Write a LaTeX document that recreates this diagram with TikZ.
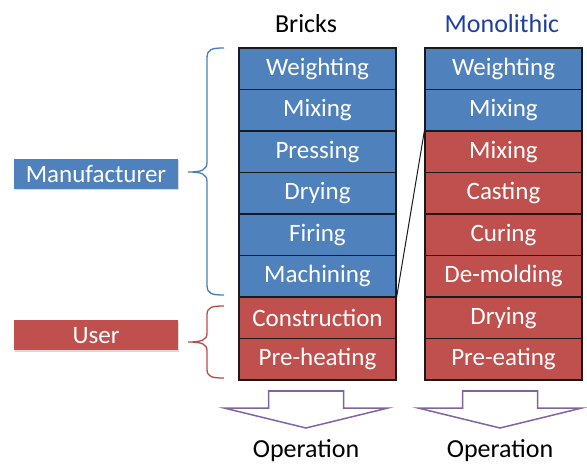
\documentclass[tikz,border=0pt]{standalone}
\usepackage{fontspec}
\setmainfont{Carlito}
\usetikzlibrary{shadows}

\definecolor{stageblue}{HTML}{4F81BD}
\definecolor{stagered}{HTML}{C0504D}
\definecolor{braceblue}{HTML}{4A7EBB}
\definecolor{bracered}{HTML}{BE4B48}
\definecolor{arrowpurple}{HTML}{8064A2}
\definecolor{titleblue}{HTML}{1F3FA0}
\definecolor{cellline}{HTML}{1A1A1A}

\tikzset{
  cell/.style={draw=cellline, line width=1.1pt, minimum width=157pt, minimum height=41.5pt,
    inner sep=0pt, text=white, font=\fontsize{25}{29}\selectfont},
  bluecell/.style={cell, fill=stageblue},
  redcell/.style={cell, fill=stagered},
  rolebox/.style={minimum width=164pt, minimum height=30pt, inner sep=0pt, text=white,
    font=\fontsize{25}{29}\selectfont,
    drop shadow={shadow xshift=1.2pt, shadow yshift=-1.2pt, opacity=0.25, fill=black!60}},
  title/.style={font=\fontsize{26}{30}\selectfont},
  bracepath/.style={line width=1.3pt},
  flowarrow/.style={draw=arrowpurple, line width=1.5pt, line join=miter},
  link/.style={draw=cellline, line width=1pt}
}

\begin{document}
\begin{tikzpicture}[x=1pt,y=-1pt]
\useasboundingbox (0,0) rectangle (587,465);

% column titles
\node[title] (tb) at (306,24) {Bricks};
\node[title, text=titleblue] (tm) at (502,24) {Monolithic};

% brick route
\foreach \i/\name/\kind in {0/Weighting/bluecell, 1/Mixing/bluecell, 2/Pressing/bluecell,
    3/Drying/bluecell, 4/Firing/bluecell, 5/Machining/bluecell,
    6/Construction/redcell, 7/Pre-heating/redcell}
  \node[\kind] (b\i) at (317.5,{48+41.5*(\i+0.5)}) {\name};

% monolithic route
\foreach \i/\name/\kind in {0/Weighting/bluecell, 1/Mixing/bluecell, 2/Mixing/redcell,
    3/Casting/redcell, 4/Curing/redcell, 5/De-molding/redcell,
    6/Drying/redcell, 7/Pre-eating/redcell}
  \node[\kind] (m\i) at (503.5,{48+41.5*(\i+0.5)}) {\name};

% where the monolithic route leaves the brick route
\draw[link] (b5.south east) -- (m2.north west);

% roles
\node[rolebox, fill=stageblue] (manu) at (96,174) {Manufacturer};
\node[rolebox, fill=stagered] (user) at (96,335.5) {User};

% braces
\draw[bracepath, draw=braceblue]
  (224,48) .. controls (212,48) and (207,49) .. (207,58)
  -- (207,162) .. controls (207,170) and (202,172) .. (188,172)
  .. controls (202,172) and (207,174) .. (207,182)
  -- (207,285) .. controls (207,294) and (212,295) .. (224,295);
\draw[bracepath, draw=bracered]
  (224,306) .. controls (212,306) and (207,307) .. (207,315)
  -- (207,333) .. controls (207,340) and (202,342) .. (188,342)
  .. controls (202,342) and (207,344) .. (207,351)
  -- (207,369) .. controls (207,377) and (212,378) .. (224,378);

% hollow arrows towards operation
\foreach \c/\n in {306/ob, 500/om}{
  \draw[flowarrow]
    ({\c-37.5},391) -- ({\c+37.5},391) -- ({\c+37.5},408) -- ({\c+82},408)
    -- (\c,428) -- ({\c-82},408) -- ({\c-37.5},408) -- cycle;
  \node[title] (\n) at (\c,451) {Operation};
}
\end{tikzpicture}
\end{document}
